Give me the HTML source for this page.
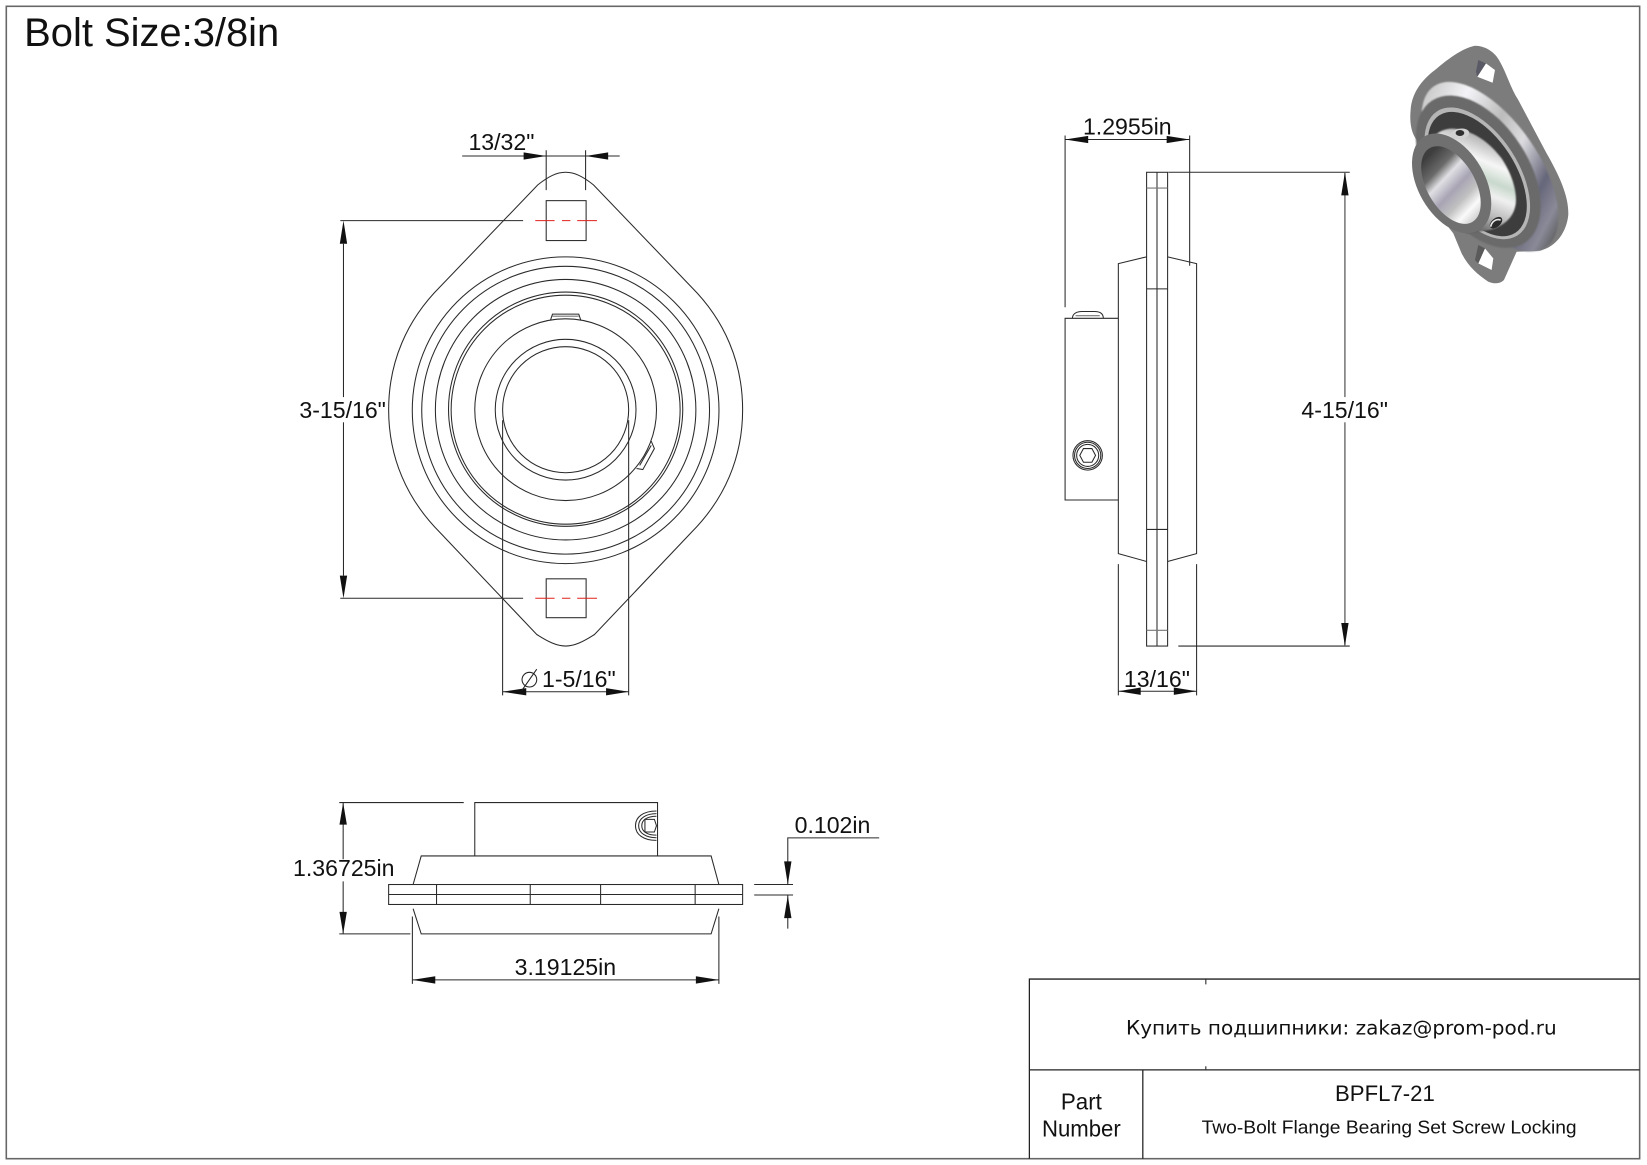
<!DOCTYPE html>
<html><head><meta charset="utf-8"><title>BPFL7-21</title>
<style>html,body{margin:0;padding:0;background:#fff}svg{display:block}text{font-family:"Liberation Sans",sans-serif;fill:#111}</style></head>
<body>
<svg xmlns="http://www.w3.org/2000/svg" width="1647" height="1165" viewBox="0 0 1568 1109" preserveAspectRatio="none">
<defs>
<linearGradient id="g1" gradientUnits="userSpaceOnUse" x1="200" y1="150" x2="460" y2="650"><stop offset="0" stop-color="#c8c8c8"/><stop offset=".2" stop-color="#f4f4f8"/><stop offset=".42" stop-color="#bcbcbc"/><stop offset=".58" stop-color="#dcdce0"/><stop offset=".78" stop-color="#66667a"/><stop offset=".9" stop-color="#8a8a98"/><stop offset="1" stop-color="#555"/></linearGradient>
<linearGradient id="g2" gradientUnits="userSpaceOnUse" x1="210" y1="590" x2="320" y2="320"><stop offset="0" stop-color="#555"/><stop offset=".22" stop-color="#b8b8b8"/><stop offset=".42" stop-color="#f0f0f0"/><stop offset=".55" stop-color="#c8d8cc"/><stop offset=".72" stop-color="#f6f6f6"/><stop offset="1" stop-color="#a0a0a0"/></linearGradient>
<linearGradient id="g3" gradientUnits="userSpaceOnUse" x1="150" y1="360" x2="215" y2="580"><stop offset="0" stop-color="#3e3e3e"/><stop offset=".22" stop-color="#6a6a6a"/><stop offset=".36" stop-color="#e0e0e4"/><stop offset=".55" stop-color="#a8a4b4"/><stop offset=".72" stop-color="#c0c0c0"/><stop offset=".88" stop-color="#fafafa"/><stop offset="1" stop-color="#d8d8d8"/></linearGradient>
<filter id="b"><feGaussianBlur stdDeviation="2.2"/></filter>
</defs>
<rect width="1568" height="1109" fill="#fff"/>
<rect x="6" y="6" width="1555" height="1097" fill="none" stroke="#666" stroke-width="1.5"/>
<text x="23" y="44" font-size="38">Bolt Size:3/8in</text>

<!-- FRONT VIEW -->
<g fill="none" stroke="#2a2a2a" stroke-width="1">
<path d="M512,176 C522,168 530,164 538.5,164 C547,164 555,168 565,176 L658,273 C690,305 707,345 707,390 C707,435 690,475 658,507 L566,604 C555,611 547,615 538.5,615 C530,615 522,611 511,604 L419,507 C387,475 370,435 370,390 C370,345 387,305 419,273 Z"/>
<circle cx="538.5" cy="390.5" r="146"/>
<circle cx="538.5" cy="390.5" r="137"/>
<circle cx="538.5" cy="390" r="124"/>
<circle cx="538.5" cy="389.5" r="111.5"/>
<circle cx="538.5" cy="390" r="109"/>
<circle cx="538.5" cy="390" r="86.5"/>
<circle cx="538.5" cy="390" r="67"/>
<circle cx="538.5" cy="390" r="60"/>
<path d="M524,305 L526,299 L551,299 L553,305"/>
<path d="M526,301 H551" stroke="#777"/>
<path d="M606,446 L612,447 L623,427 L620,420 M609,443 L620,424" />
<rect x="520" y="191" width="38" height="38"/>
<rect x="520" y="551" width="38" height="37"/>
<path d="M520,143V181M557.5,143V181M440,148.5H590"/>
<path d="M324,210H498M324,569.5H498M327,232V548"/>
<path d="M478.5,400V662M598.5,400V662M478.5,658.5H598.5"/>
</g>
<g fill="none" stroke="#e0201c" stroke-width="1">
<path d="M509.6,210H528M535,210H543M549.5,210H568.4M509.6,569.5H528M535,569.5H543M549.5,569.5H568.4"/>
</g>
<g fill="#111" stroke="none">
<polygon points="520,148.5 498.5,145 498.5,152"/>
<polygon points="557.5,148.5 579,145 579,152"/>
<polygon points="327,210 323.5,232 330.5,232"/>
<polygon points="327,569.5 323.5,548 330.5,548"/>
<polygon points="478.5,658.5 501,655 501,662"/>
<polygon points="598.5,658.5 577,655 577,662"/>
</g>
<text x="446" y="143" font-size="22">13/32"</text>
<rect x="285" y="378" width="83" height="24" fill="#fff"/>
<text x="285" y="398" font-size="22">3-15/16"</text>
<g fill="none" stroke="#222" stroke-width="1"><circle cx="504" cy="647" r="7"/><path d="M497,657L511,637"/></g>
<text x="516" y="654" font-size="22">1-5/16"</text>

<!-- SIDE VIEW -->
<g fill="none" stroke="#2a2a2a" stroke-width="1">
<rect x="1091.6" y="164" width="20" height="451"/>
<path d="M1101.5,164V615"/>
<path d="M1091.6,179H1111.6M1091.6,600H1111.6" stroke="#777"/>
<path d="M1091.6,275H1111.6M1091.6,504H1111.6"/>
<path d="M1091.6,244.5L1064.7,251V527L1091.6,534.5M1111.6,244.5L1139.2,251V527L1111.6,534.5"/>
<path d="M1064.7,303H1014V476H1064.7"/>
<path d="M1021,303C1021,298 1026,296.5 1030,296.5H1042C1047,296.5 1050.4,298 1050.4,303"/>
<path d="M1024,300.5H1047" stroke="#777"/>
<circle cx="1035.5" cy="433.5" r="14"/><circle cx="1035.5" cy="433.5" r="12.5"/><circle cx="1035.5" cy="433.5" r="10.5"/>
<polygon points="1028,433.5 1031.5,427 1039.5,427 1043,433.5 1039.5,440 1031.5,440"/>
<path d="M1014,129V292.5M1132.6,129V253M1014,132.8H1132.6"/>
<path d="M1112.3,164H1285M1121.8,615H1285"/>
<path d="M1280.4,164V615" stroke="#666" stroke-width="1.3"/>
<path d="M1064.7,537V662M1139.2,537V662M1064.7,658H1139.2"/>
</g>
<g fill="#111" stroke="none">
<polygon points="1014,132.8 1036,129.3 1036,136.3"/>
<polygon points="1132.6,132.8 1110.7,129.3 1110.7,136.3"/>
<polygon points="1280.4,164 1276.9,186 1283.9,186"/>
<polygon points="1280.4,615 1276.9,593 1283.9,593"/>
<polygon points="1064.7,658 1086,654.5 1086,661.5"/>
<polygon points="1139.2,658 1117.5,654.5 1117.5,661.5"/>
</g>
<text x="1031" y="128" font-size="22">1.2955in</text>
<rect x="1239" y="378" width="83" height="24" fill="#fff"/>
<text x="1239" y="398" font-size="22">4-15/16"</text>
<text x="1070" y="654" font-size="22">13/16"</text>

<!-- BOTTOM VIEW -->
<g fill="none" stroke="#2a2a2a" stroke-width="1">
<path d="M452,814.8V764H626V814.8"/>
<path d="M393.3,842L401,814.8H677L684.4,842"/>
<rect x="370" y="842" width="337" height="19"/>
<path d="M370,851.5H707M415.6,842V861M504.8,842V861M571.8,842V861M661.8,842V861"/>
<path d="M393.3,865L401,889H677L684.4,865"/>
<path d="M625,772 C612,772 605,778 605,786 C605,794 612,800 625,800"/>
<path d="M625,774.5 C615,774.5 608,779 608,786 C608,793 615,797.5 625,797.5"/>
<path d="M625,777 C617,777 611,780 611,786 C611,792 617,795 625,795"/>
<polygon points="614,780 623,780 625,786 623,792 614,792"/>
<path d="M323,764H441.5M323,889H390.7M326.7,764V818M326.7,839V889"/>
<path d="M392.6,872.5V936.6M684.4,872.5V936.6M392.6,932.8H684.4"/>
<path d="M837,797.6H750V842M750,852.5V884M718,842H755M718,852H755"/>
</g>
<g fill="#111" stroke="none">
<polygon points="326.7,764 323.2,785 330.2,785"/>
<polygon points="326.7,889 323.2,868 330.2,868"/>
<polygon points="392.6,932.8 414.4,929.3 414.4,936.3"/>
<polygon points="684.4,932.8 662.5,929.3 662.5,936.3"/>
<polygon points="750,842 746.5,820 753.5,820"/>
<polygon points="750,852.5 746.5,874 753.5,874"/>
</g>
<text x="279" y="834" font-size="22">1.36725in</text>
<text x="490" y="928" font-size="22">3.19125in</text>
<text x="756.5" y="793" font-size="22">0.102in</text>

<!-- TITLE BLOCK -->
<g fill="none" stroke="#222" stroke-width="1.2">
<path d="M980,1103V932H1561M980,1018.5H1561M1088,1018.5V1103"/>
<path d="M1148,932V937M1148,1015V1018" stroke-width="1"/>
</g>
<text x="1072" y="985" font-size="19" textLength="410" lengthAdjust="spacingAndGlyphs" style='font-family:"DejaVu Sans",sans-serif'>Купить подшипники: zakaz@prom-pod.ru</text>
<text x="1271" y="1048" font-size="21" textLength="95" lengthAdjust="spacingAndGlyphs">BPFL7-21</text>
<text x="1144" y="1079" font-size="18" textLength="357" lengthAdjust="spacingAndGlyphs">Two-Bolt Flange Bearing Set Screw Locking</text>
<text x="1010" y="1056" font-size="22" textLength="39" lengthAdjust="spacingAndGlyphs">Part</text>
<text x="992" y="1082" font-size="22" textLength="75" lengthAdjust="spacingAndGlyphs">Number</text>

<!-- 3D RENDER -->
<g transform="translate(1323.3,28.6) scale(.3173)">
<path d="M255,47 C285,47 315,65 330,95 C350,130 360,170 385,210 L470,370 C510,440 537,500 535,555 C530,605 500,650 450,662 L380,665 L342,750 C330,762 312,762 295,755 C265,735 235,710 215,670 L190,610 L120,520 L85,335 C65,315 58,280 62,240 C65,190 95,150 135,120 C170,90 215,55 255,47 Z" fill="#7c7c7c"/>
<polygon points="288,100 315,120 308,158 262,140" fill="#fff"/>
<polygon points="265,90 288,100 262,140 258,125" fill="#5a5a66"/>
<polygon points="285,655 310,685 305,720 265,700" fill="#fff"/>
<polygon points="265,645 285,655 265,700 255,690" fill="#5a5a5a"/>
<g filter="url(#b)">
<ellipse cx="300" cy="410" rx="143" ry="294" transform="rotate(-35 300 410)" fill="url(#g1)"/>
<ellipse cx="265" cy="425" rx="150" ry="255" transform="rotate(-33 265 425)" fill="#6b6b6b"/>
</g>
<ellipse cx="262" cy="430" rx="122" ry="222" transform="rotate(-33 262 430)" fill="#b5b5b5"/>
<ellipse cx="262" cy="432" rx="113" ry="210" transform="rotate(-33 262 432)" fill="#3d3d3d"/>
<g filter="url(#b)">
<path d="M125,325 C150,298 180,290 215,300 C260,310 300,340 335,385 C365,430 380,480 378,515 C375,555 350,585 300,600 L230,610 L130,420 Z" fill="url(#g2)"/>
</g>
<ellipse cx="185" cy="460" rx="100" ry="163" transform="rotate(-30 185 460)" fill="#707070"/>
<ellipse cx="183" cy="465" rx="72" ry="128" transform="rotate(-30 183 465)" fill="url(#g3)"/>
<ellipse cx="210" cy="312" rx="28" ry="16" fill="#d0d0d0" transform="rotate(-10 210 312)"/>
<ellipse cx="210" cy="309" rx="13" ry="9" fill="#2e2e2e"/>
<ellipse cx="318" cy="578" rx="22" ry="13" fill="#2a2a2a" transform="rotate(-40 318 578)"/>
<path d="M302,590 C305,575 318,565 332,570" fill="none" stroke="#e8e8e8" stroke-width="5"/>
</g>
</svg>
</body></html>
